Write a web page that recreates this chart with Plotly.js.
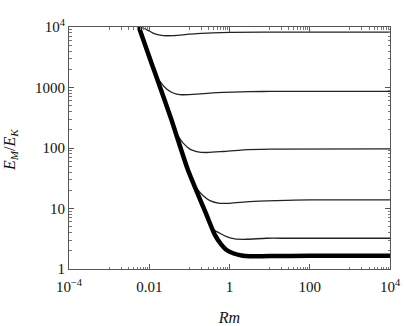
<!DOCTYPE html>
<html>
<head>
<meta charset="utf-8">
<script src="https://cdn.plot.ly/plotly-3.0.1.min.js"></script>
<style>html,body{margin:0;padding:0;background:#fff;}#chart{width:404px;height:326px;}</style>
</head>
<body>
<div id="chart"></div>
<script>
// Thick (lower envelope) curve
const thickRm = [0.0055, 0.0115, 0.0164, 0.0357, 0.0918, 0.268, 0.432, 0.634, 0.845, 1.23, 2.0, 3.2, 10, 100, 10000];
const thickE  = [10000, 2480, 1280, 293, 43.6, 7.83, 3.66, 2.50, 2.06, 1.82, 1.67, 1.62, 1.64, 1.65, 1.66];

// Thin curves branching off
const c1Rm = [0.0055, 0.0086, 0.0138, 0.0223, 0.0395, 0.151, 1.02, 100, 10000];
const c1E  = [10000, 9060, 7690, 7210, 7210, 7770, 8170, 8200, 8200];

const c2Rm = [0.0145, 0.01845, 0.0271, 0.0396, 0.058, 0.151, 0.695, 3.2, 10, 10000];
const c2E  = [1600, 1262, 944, 811, 760, 780, 829, 852, 861, 865];

const c3Rm = [0.045, 0.0527, 0.0702, 0.103, 0.151, 0.268, 0.695, 2.19, 10.1, 10000];
const c3E  = [184, 155, 120.5, 95.9, 87.5, 84.2, 87.5, 93.4, 95.9, 97];

const c4Rm = [0.125, 0.151, 0.221, 0.324, 0.575, 1.02, 3.21, 14.9, 100, 10000];
const c4E  = [26.6, 21.7, 16.2, 13.5, 12.2, 12.2, 13.0, 13.5, 13.9, 13.9];

const c5Rm = [0.30, 0.357, 0.575, 0.845, 1.36, 2.66, 8.37, 31.8, 10000];
const c5E  = [6.55, 4.72, 3.90, 3.43, 3.14, 3.10, 3.22, 3.22, 3.22];

// Tick labels
const xTickVals = [1e-4, 0.01, 1, 100, 1e4];
const xTickText = ['10<sup>−4</sup>', '0.01', '1', '100', '10<sup>4</sup>'];
const yTickVals = [1, 10, 100, 1000, 1e4];
const yTickText = ['1', '10', '100', '1000', '10<sup>4</sup>'];
const yTitle = '<i>E</i><sub><i>M</i></sub>/<i>E</i><sub><i>K</i></sub>';
const xTitle = '<i>Rm</i>';

// minor tick decades
const xMinorDecades = [-3, -1, 1, 3];
const yMinorDecades = [0, 1, 2, 3];
function minorTicks(decs){const out=[];decs.forEach(d=>{for(let k=1;k<=9;k++){out.push(k*Math.pow(10,d));}});return out;}

const thin = {color:'#222', width:1.3, shape:'spline', smoothing:0.7};
const traces = [
  {x:c1Rm, y:c1E, mode:'lines', line:thin},
  {x:c2Rm, y:c2E, mode:'lines', line:thin},
  {x:c3Rm, y:c3E, mode:'lines', line:thin},
  {x:c4Rm, y:c4E, mode:'lines', line:thin},
  {x:c5Rm, y:c5E, mode:'lines', line:thin},
  {x:thickRm, y:thickE, mode:'lines', line:{color:'#000', width:4.5, shape:'spline', smoothing:0.6}}
];

const fontFam = '"Liberation Serif", "DejaVu Serif", serif';
const axisCommon = {
  type:'log', showgrid:false, zeroline:false,
  showline:true, linecolor:'#555', linewidth:1, mirror:'ticks',
  ticks:'inside', ticklen:5, tickcolor:'#555', tickwidth:1,
  tickmode:'array', tickfont:{family:fontFam, size:15, color:'#111'}
};

const layout = {
  width:404, height:326,
  margin:{l:69, r:14, t:27, b:57},
  paper_bgcolor:'#fff', plot_bgcolor:'#fff',
  showlegend:false,
  xaxis: Object.assign({}, axisCommon, {
    range:[-4,4], tickvals:xTickVals, ticktext:xTickText, ticklabelstandoff:4,
    minor:{tickmode:'array', tickvals:minorTicks(xMinorDecades), ticks:'inside', ticklen:2.5, tickcolor:'#777', tickwidth:1},
    title:{text:xTitle, font:{family:fontFam, size:16, color:'#111'}, standoff:20}
  }),
  yaxis: Object.assign({}, axisCommon, {
    range:[0,4], tickvals:yTickVals, ticktext:yTickText,
    minor:{tickmode:'array', tickvals:minorTicks(yMinorDecades), ticks:'inside', ticklen:2.5, tickcolor:'#777', tickwidth:1}
  }),
  annotations:[{
    text:yTitle, xref:'paper', yref:'paper', x:0, y:0.5, xshift:-59, yshift:-2,
    xanchor:'center', yanchor:'middle', textangle:-90, showarrow:false,
    font:{family:fontFam, size:16, color:'#111'}
  }]
};

Plotly.newPlot('chart', traces, layout, {staticPlot:true, displayModeBar:false});
</script>
</body>
</html>
